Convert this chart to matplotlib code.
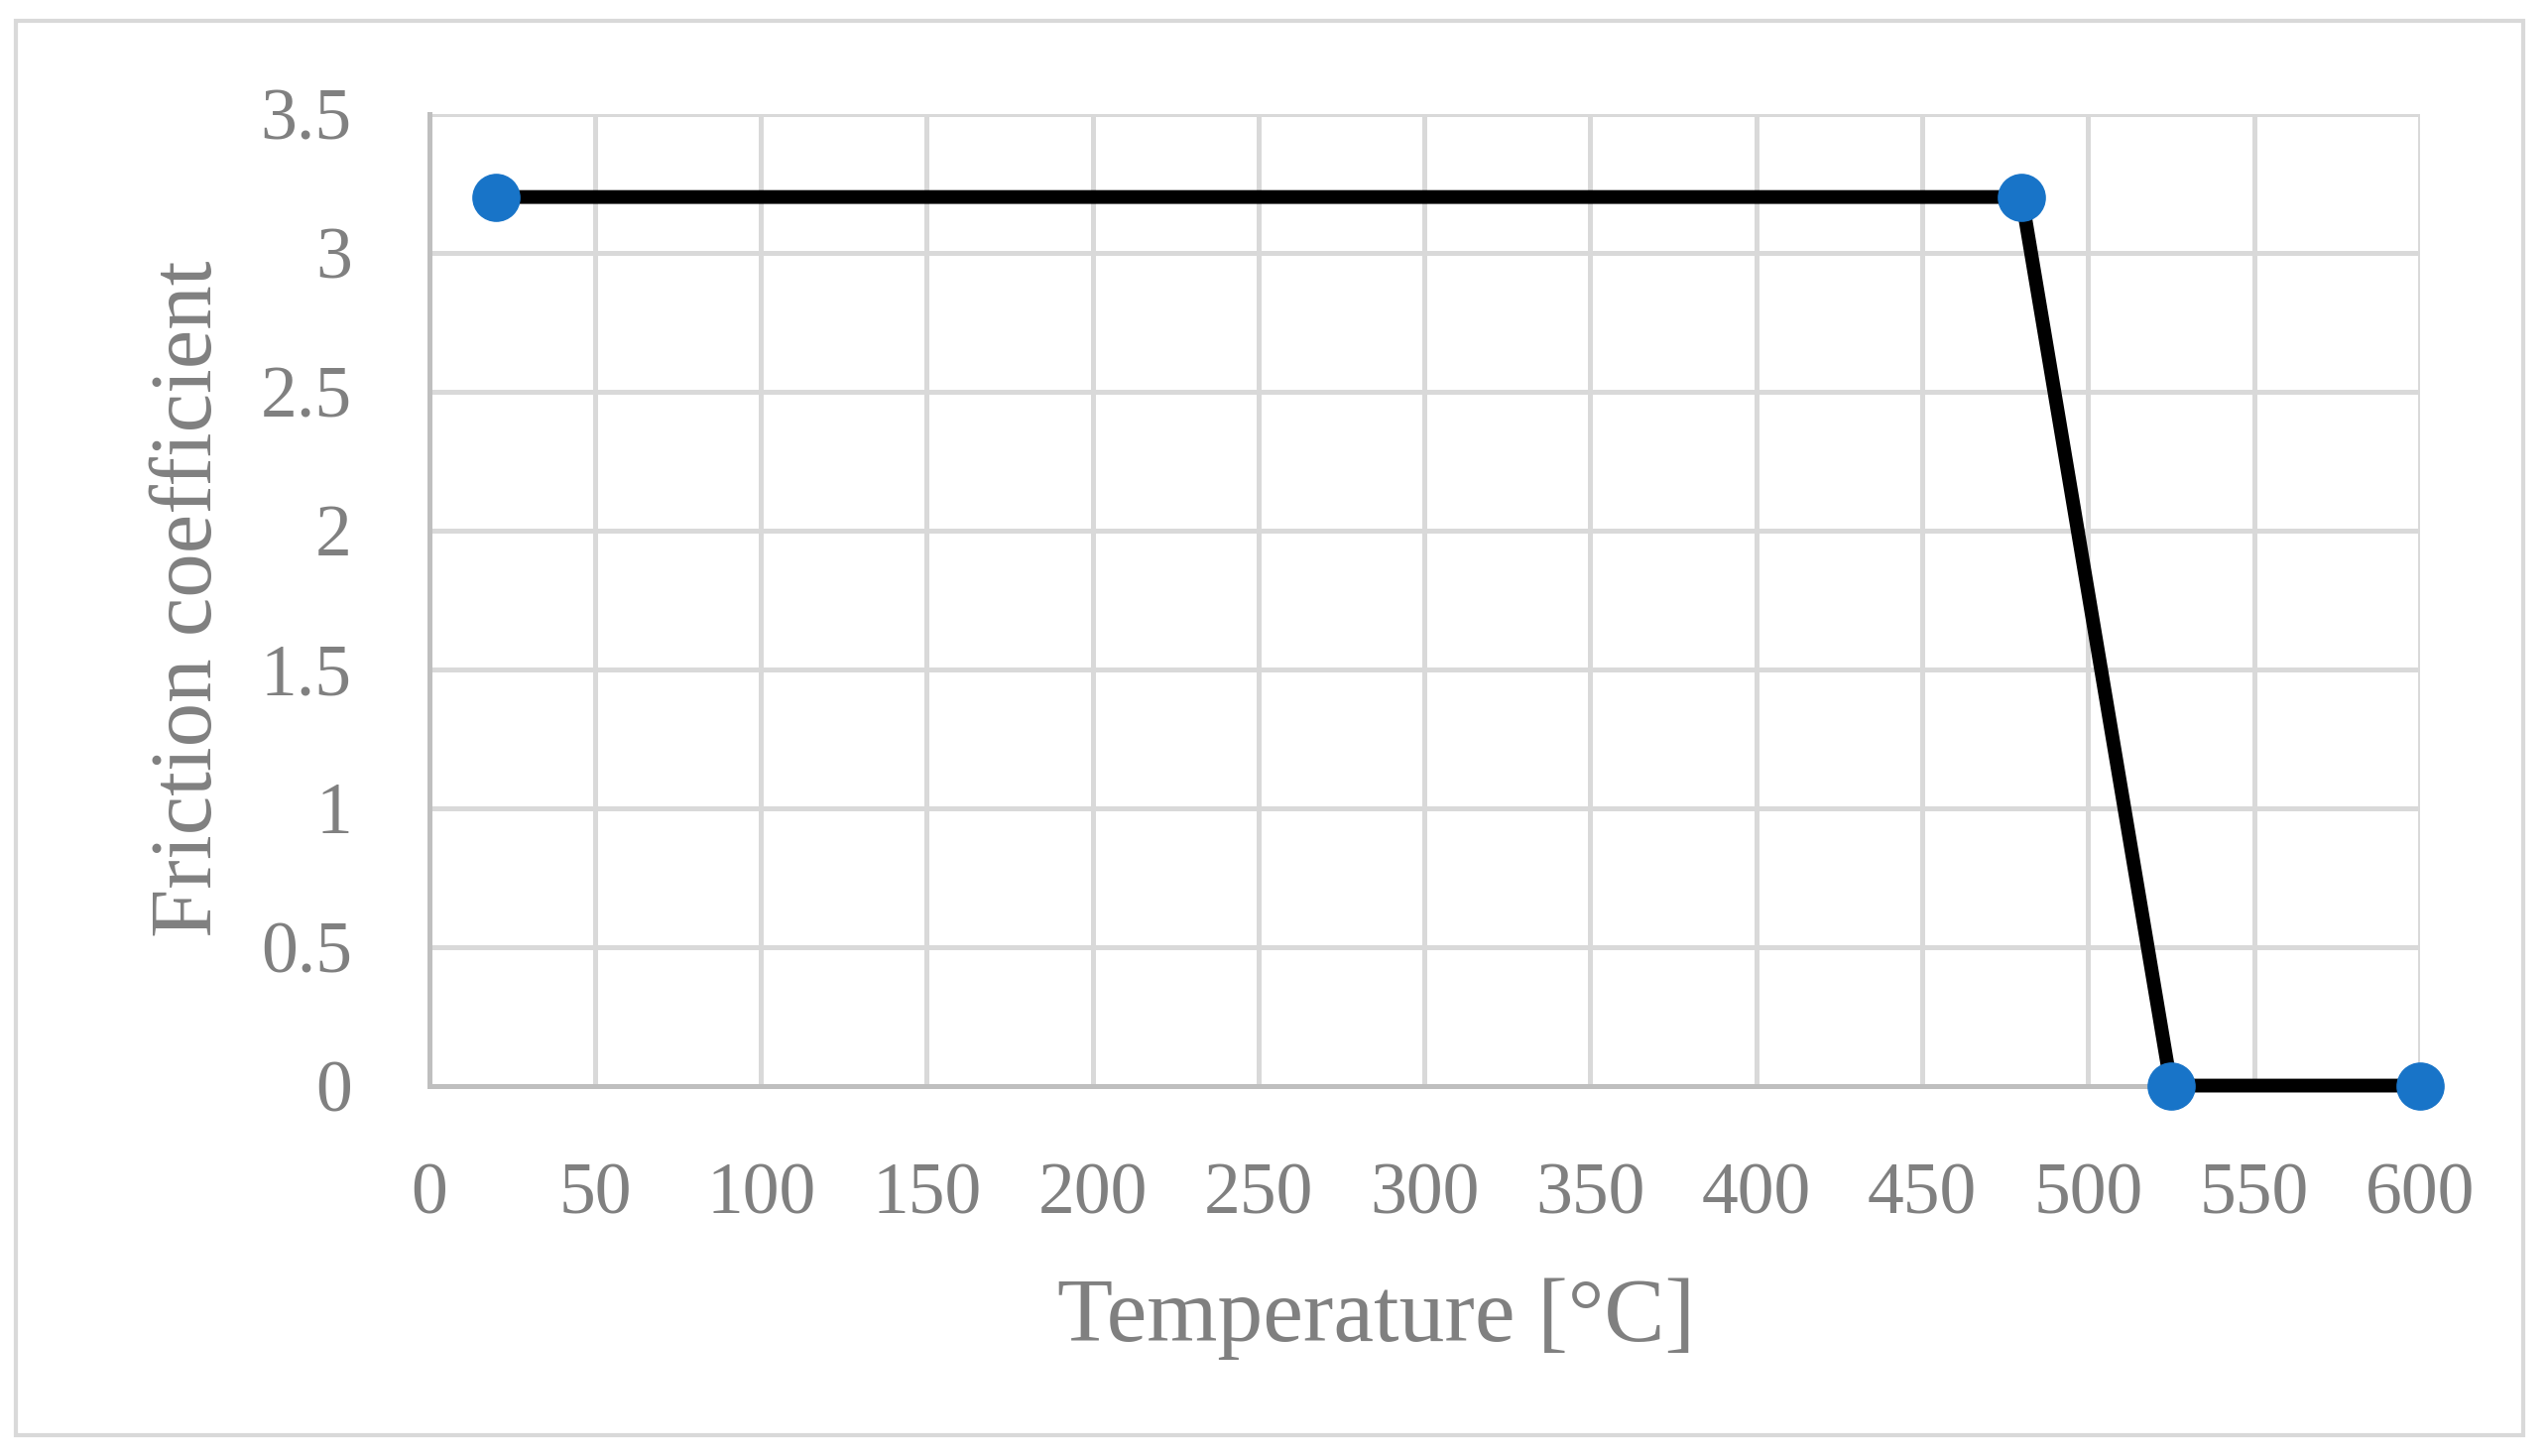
import matplotlib
matplotlib.use('Agg')
import matplotlib.pyplot as plt
from matplotlib.patches import Rectangle

# friction coefficient vs temperature
temperature = [20, 480, 525, 600]
friction = [3.2, 3.2, 0, 0]

x_ticks = [0, 50, 100, 150, 200, 250, 300, 350, 400, 450, 500, 550, 600]
y_ticks = [0, 0.5, 1, 1.5, 2, 2.5, 3, 3.5]
y_labels = ['0', '0.5', '1', '1.5', '2', '2.5', '3', '3.5']

plt.rcParams['font.family'] = ['Liberation Serif', 'DejaVu Serif']

grey_text = '#808080'
grid_col = '#d9d9d9'

fig = plt.figure(figsize=(25.69, 14.68), dpi=100)
ax = fig.add_axes([0.1684, 0.2544, 0.7813, 0.6675])

ax.plot(temperature, friction, color='black', linewidth=10, zorder=3,
        marker='o', markersize=34, markerfacecolor='#1874C8',
        markeredgecolor='#1874C8', clip_on=False)

ax.set_xlim(0, 600)
ax.set_ylim(0, 3.5)
ax.set_xticks(x_ticks)
ax.set_yticks(y_ticks)
ax.set_yticklabels(y_labels)

ax.grid(True, color=grid_col, linewidth=3.6, zorder=0)
ax.set_axisbelow(True)
for side in ['top', 'right']:
    ax.spines[side].set_visible(False)
for side in ['left', 'bottom']:
    ax.spines[side].set_color('#bfbfbf')
    ax.spines[side].set_linewidth(3.6)

ax.tick_params(axis='both', length=0, labelsize=53, colors=grey_text)
ax.tick_params(axis='x', pad=56)
ax.tick_params(axis='y', pad=56)

fig.text(0.540, 0.094, 'Temperature [°C]', fontsize=66, color=grey_text,
         ha='center', va='center')
fig.text(0.0745, 1 - 604 / 1468, 'Friction coefficient', fontsize=64,
         color=grey_text, ha='center', va='center', rotation=90)

# chart area border
fig.patches.append(Rectangle((16 / 2569, 1 - 1447 / 1468), 2528 / 2569, 1426 / 1468,
                             transform=fig.transFigure, fill=False,
                             edgecolor=grid_col, linewidth=3))

fig.savefig('out.png', dpi=100)
